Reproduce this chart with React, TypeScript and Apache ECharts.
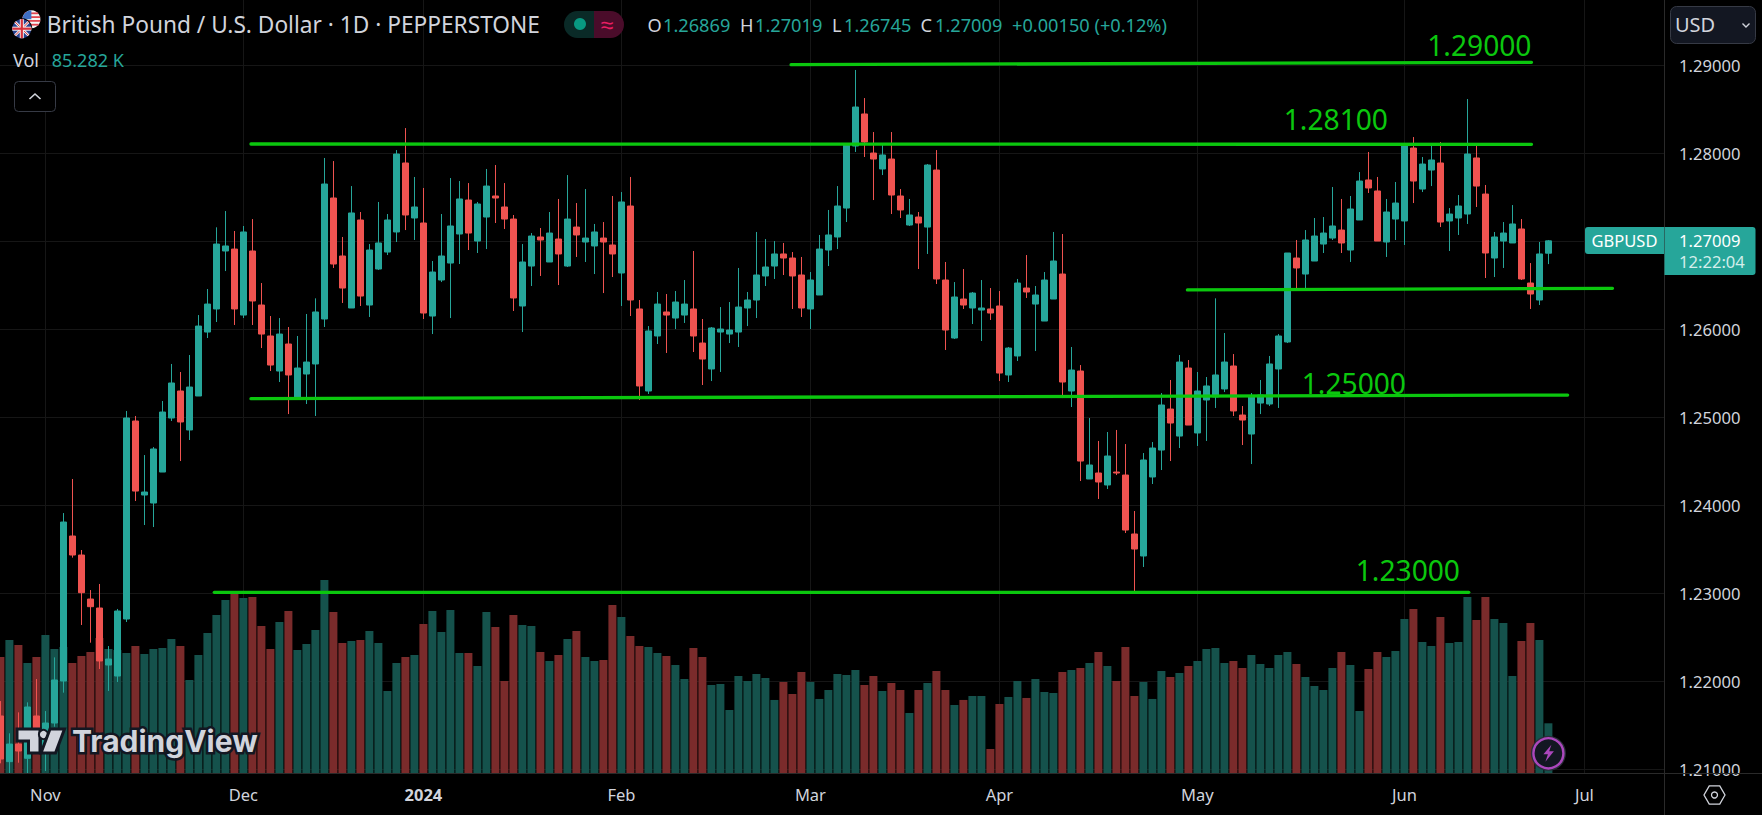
import React, { useEffect, useRef } from "react";
import * as echarts from "echarts";

const opens = [
1.21610,1.21091,1.21291,1.21129,1.21610,1.21223,1.21530,1.22007,1.23655,1.23439,
1.22939,1.22837,1.22189,1.22064,1.22712,1.24962,1.24121,1.24030,1.24382,1.24996,
1.25303,1.24860,1.25246,1.25973,1.26235,1.26894,1.26916,1.26166,1.26894,1.26280,
1.25928,1.25530,1.25837,1.25223,1.25496,1.25610,1.26121,1.27496,1.26837,1.26246,
1.27246,1.26280,1.26689,1.26882,1.27110,1.27894,1.27269,1.27212,1.26155,1.26564,
1.26757,1.27087,1.27473,1.27007,1.27280,1.27519,1.27394,1.27257,1.26269,1.26723,
1.27053,1.26769,1.27030,1.26723,1.27166,1.26996,1.26951,1.27041,1.26962,1.26644,
1.27405,1.26235,1.25303,1.25928,1.26201,1.26132,1.26166,1.26235,1.25848,1.25553,
1.25973,1.25950,1.25973,1.26246,1.26337,1.26610,1.26723,1.26860,1.26814,1.26621,
1.26235,1.26394,1.26905,1.27053,1.27382,1.28087,1.28451,1.28007,1.27826,1.27939,
1.27519,1.27189,1.27280,1.27166,1.27814,1.26564,1.25905,1.26348,1.26246,1.26223,
1.26235,1.26269,1.25485,1.25701,1.26473,1.26291,1.26098,1.26348,1.26632,1.25303,
1.25530,1.24303,1.24371,1.24235,1.24382,1.24348,1.23678,1.23428,1.24326,1.24632,
1.25098,1.24791,1.25564,1.24826,1.25201,1.25235,1.25326,1.25587,1.25030,1.24814,
1.25166,1.25155,1.25553,1.25860,1.26814,1.26632,1.26780,1.26973,1.27041,1.27132,
1.26905,1.27246,1.27701,1.27576,1.26996,1.27257,1.27235,1.28064,1.27598,1.27814,
1.27894,1.27235,1.27269,1.27314,1.27951,1.27541,1.26814,1.27007,1.26985,1.27144,
1.26530,1.26337,1.26869];

const highs = [
1.21780,1.21413,1.21651,1.21765,1.22030,1.21666,1.22276,1.23916,1.24303,1.23496,
1.23041,1.23110,1.22405,1.22826,1.25076,1.25019,1.24575,1.24666,1.25189,1.25610,
1.25519,1.25712,1.26166,1.26462,1.27163,1.27348,1.27121,1.27178,1.27257,1.26530,
1.26155,1.26132,1.26030,1.25928,1.26178,1.26356,1.27951,1.27916,1.27053,1.27632,
1.27337,1.26973,1.27451,1.27314,1.28041,1.28291,1.27735,1.27610,1.26780,1.27314,
1.27723,1.27689,1.27666,1.27451,1.27826,1.27871,1.27666,1.27303,1.26973,1.27098,
1.27155,1.27337,1.27485,1.27757,1.27439,1.27598,1.27201,1.27223,1.27519,1.27564,
1.27735,1.26337,1.26041,1.26428,1.26405,1.26439,1.26564,1.26894,1.26121,1.26030,
1.26257,1.26314,1.26701,1.26428,1.27110,1.27030,1.27007,1.26985,1.26882,1.26826,
1.26655,1.27076,1.27360,1.27632,1.28117,1.28951,1.28632,1.28246,1.28110,1.28246,
1.27598,1.27485,1.27337,1.27882,1.28041,1.26769,1.26541,1.26689,1.26428,1.26564,
1.26473,1.26439,1.25803,1.26576,1.26848,1.26496,1.26655,1.27110,1.27087,1.25803,
1.25598,1.24996,1.24735,1.24837,1.24860,1.24700,1.23939,1.24598,1.24723,1.25280,
1.25428,1.25712,1.25655,1.25519,1.25462,1.26356,1.25962,1.25723,1.25132,1.25280,
1.25428,1.25701,1.25950,1.26871,1.27019,1.27132,1.27269,1.27280,1.27621,1.27485,
1.27519,1.27791,1.28019,1.27735,1.27485,1.27678,1.28110,1.28189,1.27962,1.28098,
1.28132,1.27382,1.27530,1.28621,1.28087,1.27644,1.27110,1.27223,1.27416,1.27257,
1.26757,1.26996,1.27019];

const lows = [
1.21072,1.20958,1.21079,1.20958,1.21204,1.20985,1.21488,1.21875,1.23409,1.22644,
1.22443,1.22144,1.21894,1.21996,1.22678,1.24053,1.23780,1.23757,1.24382,1.24962,
1.24507,1.24746,1.25246,1.25905,1.26087,1.26666,1.26053,1.26132,1.26053,1.25791,
1.25530,1.25405,1.25041,1.25223,1.25155,1.25019,1.26030,1.26701,1.26303,1.26246,
1.26269,1.26144,1.26678,1.26848,1.26996,1.27132,1.27019,1.26121,1.25950,1.26541,
1.26132,1.26746,1.26905,1.26871,1.26916,1.27212,1.27144,1.26212,1.25973,1.26496,
1.26610,1.26769,1.26507,1.26712,1.26826,1.26769,1.26632,1.26416,1.26598,1.26269,
1.26155,1.25201,1.25269,1.25837,1.25735,1.26007,1.26076,1.25746,1.25371,1.25416,
1.25519,1.25848,1.25803,1.26041,1.26132,1.26496,1.26576,1.26621,1.26235,1.26144,
1.26007,1.26394,1.26723,1.26916,1.27223,1.28019,1.27962,1.27473,1.27757,1.27314,
1.27269,1.27178,1.26689,1.26860,1.26519,1.25769,1.25894,1.26235,1.26064,1.25871,
1.26110,1.25416,1.25405,1.25644,1.26360,1.25757,1.26098,1.26348,1.25223,1.25121,
1.24280,1.24303,1.24076,1.24189,1.24348,1.23689,1.23022,1.23303,1.24246,1.24405,
1.24507,1.24655,1.24916,1.24678,1.24735,1.25110,1.25291,1.25019,1.24689,1.24473,
1.25041,1.25132,1.25110,1.25848,1.26451,1.26473,1.26780,1.26871,1.27019,1.26871,
1.26769,1.27246,1.27553,1.27007,1.26826,1.27019,1.26962,1.27439,1.27564,1.27632,
1.27166,1.26894,1.27076,1.27201,1.27394,1.26587,1.26598,1.26701,1.26985,1.26564,
1.26235,1.26280,1.26745];

const closes = [
1.21121,1.21291,1.21212,1.21712,1.21375,1.21530,1.22019,1.23814,1.23439,1.23011,
1.22852,1.22235,1.22257,1.22803,1.24996,1.24166,1.24155,1.24644,1.25064,1.25394,
1.24951,1.25348,1.26041,1.26291,1.26973,1.26951,1.26235,1.27110,1.26326,1.25950,
1.25598,1.25950,1.25485,1.25564,1.25632,1.26201,1.27655,1.26746,1.26473,1.27326,
1.26382,1.26905,1.26985,1.27246,1.27996,1.27303,1.27394,1.26189,1.26655,1.26837,
1.27178,1.27485,1.27098,1.27428,1.27632,1.27496,1.27257,1.26360,1.26769,1.27064,
1.27019,1.27098,1.26860,1.27257,1.27076,1.27041,1.27110,1.26996,1.26860,1.27451,
1.26337,1.25360,1.25985,1.26291,1.26166,1.26314,1.26291,1.25928,1.25666,1.26019,
1.26007,1.25996,1.26257,1.26337,1.26621,1.26712,1.26860,1.26814,1.26610,1.26246,
1.26564,1.26916,1.27076,1.27405,1.28098,1.28530,1.28132,1.27939,1.27985,1.27530,
1.27360,1.27303,1.27212,1.27871,1.26576,1.25996,1.26371,1.26280,1.26416,1.26246,
1.26189,1.25507,1.25791,1.26530,1.26428,1.26394,1.26564,1.26780,1.25405,1.25541,
1.24507,1.24462,1.24269,1.24564,1.24371,1.23723,1.23507,1.24519,1.24655,1.25144,
1.24939,1.25632,1.24916,1.25303,1.25360,1.25485,1.25632,1.25076,1.24973,1.25246,
1.25257,1.25610,1.25928,1.26871,1.26701,1.27019,1.27064,1.27098,1.27178,1.26985,
1.27371,1.27689,1.27610,1.27007,1.27337,1.27439,1.28098,1.27689,1.27882,1.27928,
1.27223,1.27314,1.27405,1.27996,1.27632,1.26871,1.27053,1.27098,1.27201,1.26576,
1.26405,1.26860,1.27009];

// volume, in thousands
const volumes = [
198.4,227.4,218.9,188.2,198.4,235.9,212.1,215.5,188.2,200.1,
206.9,230.8,212.1,210.3,205.2,217.2,203.5,212.1,213.8,229.1,
217.2,159.2,201.8,239.3,270.0,295.6,307.0,299.0,300.7,251.3,
212.1,258.1,276.9,210.3,220.6,244.5,329.7,275.2,222.3,225.7,
227.4,242.7,222.3,140.4,188.2,198.4,201.8,254.7,276.9,241.0,
278.6,205.2,205.2,183.1,275.2,249.6,157.5,270.0,253.0,251.3,
206.9,191.6,201.8,229.1,242.7,198.4,191.6,193.3,287.1,266.6,
234.2,217.2,215.5,205.2,200.1,184.8,160.9,213.8,198.4,150.7,
152.4,108.0,166.0,157.5,169.4,162.6,125.1,155.8,135.3,172.8,
155.8,126.8,142.1,169.4,167.7,176.2,150.7,166.0,140.4,154.1,
142.1,102.9,142.1,154.1,174.5,142.1,116.5,125.1,131.9,131.9,
41.5,118.2,130.2,157.5,128.5,160.9,138.7,137.0,172.8,176.2,
179.6,188.2,206.9,183.1,157.5,215.5,131.9,155.8,126.8,174.5,
164.3,171.1,183.1,191.6,212.1,213.8,188.2,191.6,179.6,201.8,
186.5,179.6,201.8,206.9,186.5,164.3,148.9,142.1,179.6,206.9,
184.8,106.3,177.9,206.9,198.4,208.6,263.2,280.3,224.0,217.2,
266.6,222.3,224.0,300.7,261.5,300.7,263.2,256.4,166.0,225.7,
256.4,227.4,85.282];

const priceTicks = [1.21, 1.22, 1.23, 1.24, 1.25, 1.26, 1.27, 1.28, 1.29];
const monthNames = ["Nov", "Dec", "2024", "Feb", "Mar", "Apr", "May", "Jun", "Jul"];
const monthBars = [5, 27, 47, 69, 90, 111, 133, 156, 176];

const levelNames = ["1.29000", "1.28100", "1.25000", "1.23000"];
const drawnLines: number[][][] = [
  [[87.85, 1.29011], [170.12, 1.29038]],
  [[27.84, 1.2811], [170.12, 1.28106]],
  [[27.84, 1.25216], [174.14, 1.25257]],
  [[131.89, 1.26451], [179.12, 1.2647]],
  [[23.77, 1.23015], [163.15, 1.23015]],
];

const FONT = '"Noto Sans", sans-serif';
const GRID = "#161616";
const TXT = "#d1d4dc";
const UP = "#26a69a";
const DOWN = "#ef5350";
const GREEN = "#0bc70e";

const T = (text: string, x: number, y: number, size: number, fill: string, extra: any = {}) => ({
  type: "text",
  x,
  y,
  z: 100,
  silent: true,
  style: { text, fill, fontSize: size, fontFamily: FONT, align: "left", verticalAlign: "middle", ...extra },
});

const L = (x1: number, y1: number, x2: number, y2: number, stroke: string, w = 1) => ({
  type: "line",
  z: 100,
  silent: true,
  shape: { x1, y1, x2, y2 },
  style: { stroke, lineWidth: w },
});

function chord(cx: number, cy: number, r: number, dy: number, stroke: string, w: number) {
  const h = Math.sqrt(r * r - dy * dy);
  return L(cx - h, cy + dy, cx + h, cy + dy, stroke, w);
}

function flags() {
  const ux = 31.4, uy = 19.3, ur = 9;
  const gx = 21.8, gy = 28.7, gr = 9.5;
  const d = gr * 0.707;
  return [
    { type: "circle", z: 100, shape: { cx: ux, cy: uy, r: ur }, style: { fill: "#f4f4f4" } },
    chord(ux, uy, ur, -6, "#e0454f", 1.8),
    chord(ux, uy, ur, -2.2, "#e0454f", 1.8),
    chord(ux, uy, ur, 1.6, "#e0454f", 1.8),
    chord(ux, uy, ur, 5.4, "#e0454f", 1.8),
    { type: "sector", z: 100, shape: { cx: ux, cy: uy, r0: 0, r: ur, startAngle: Math.PI, endAngle: Math.PI * 1.5 }, style: { fill: "#3f6fc4" } },
    { type: "circle", z: 100, shape: { cx: gx, cy: gy, r: gr + 1 }, style: { fill: "#000" } },
    { type: "circle", z: 100, shape: { cx: gx, cy: gy, r: gr }, style: { fill: "#26408f" } },
    L(gx - d, gy - d, gx + d, gy + d, "#f4f4f4", 2.6),
    L(gx - d, gy + d, gx + d, gy - d, "#f4f4f4", 2.6),
    L(gx - d, gy - d, gx + d, gy + d, "#d8323c", 1),
    L(gx - d, gy + d, gx + d, gy - d, "#d8323c", 1),
    L(gx - gr, gy, gx + gr, gy, "#f4f4f4", 4),
    L(gx, gy - gr, gx, gy + gr, "#f4f4f4", 4),
    L(gx - gr, gy, gx + gr, gy, "#d8323c", 2.2),
    L(gx, gy - gr, gx, gy + gr, "#d8323c", 2.2),
  ];
}

function overlays() {
  const hexR = 10.5, hx = 1714.5, hy = 795;
  const hex = [0, 1, 2, 3, 4, 5].map((k) => [hx + hexR * Math.cos((k * Math.PI) / 3), hy + hexR * Math.sin((k * Math.PI) / 3)]);
  const bx = 1548.4, by = 753.3;
  return [
    // panel separators
    L(1664.5, 0, 1664.5, 815, "#2a2a2a"),
    L(0, 773.5, 1762, 773.5, "#2a2a2a"),
    // legend
    ...flags(),
    T("British Pound / U.S. Dollar · 1D · PEPPERSTONE", 46.7, 24.7, 22.7, TXT),
    { type: "rect", z: 100, shape: { x: 564, y: 11, width: 30, height: 27, r: [13.5, 0, 0, 13.5] }, style: { fill: "#0a2a27" } },
    { type: "rect", z: 100, shape: { x: 594, y: 11, width: 30, height: 27, r: [0, 13.5, 13.5, 0] }, style: { fill: "#4a0c2a" } },
    { type: "circle", z: 100, shape: { cx: 580, cy: 24, r: 6 }, style: { fill: "#089981" } },
    T("≈", 607, 24, 23, "#e91e63", { align: "center" }),
    T("O", 647.5, 24.7, 18.2, TXT),
    T("1.26869", 663, 24.7, 18.2, UP),
    T("H", 740, 24.7, 18.2, TXT),
    T("1.27019", 755, 24.7, 18.2, UP),
    T("L", 832, 24.7, 18.2, TXT),
    T("1.26745", 844, 24.7, 18.2, UP),
    T("C", 920.5, 24.7, 18.2, TXT),
    T("1.27009", 935, 24.7, 18.2, UP),
    T("+0.00150 (+0.12%)", 1012, 24.7, 18.2, UP),
    T("Vol", 13, 60, 18, TXT),
    T("85.282 K", 51.7, 60, 18, UP),
    { type: "rect", z: 100, shape: { x: 14.5, y: 81.5, width: 41, height: 30, r: 4 }, style: { fill: "#000", stroke: "#363a45", lineWidth: 1 } },
    { type: "polyline", z: 100, shape: { points: [[29.5, 99], [35, 94], [40.5, 99]] }, style: { stroke: TXT, lineWidth: 1.6, fill: "none" } },
    // currency button
    { type: "rect", z: 100, shape: { x: 1670.5, y: 6.5, width: 85, height: 37, r: 6 }, style: { fill: "#131722", stroke: "#363a45", lineWidth: 1 } },
    T("USD", 1675, 24.5, 20, TXT),
    { type: "polyline", z: 100, shape: { points: [[1742.5, 23.5], [1746, 27], [1749.5, 23.5]] }, style: { stroke: TXT, lineWidth: 1.4, fill: "none" } },
    // last price
    { type: "rect", z: 100, shape: { x: 1585, y: 227, width: 79, height: 27, r: [3, 0, 0, 3] }, style: { fill: UP } },
    T("GBPUSD", 1624.5, 240.7, 16.5, "#ffffff", { align: "center" }),
    { type: "rect", z: 100, shape: { x: 1664.5, y: 227, width: 91, height: 48, r: [0, 3, 3, 0] }, style: { fill: UP } },
    T("1.27009", 1679, 240.7, 16.6, "#ffffff"),
    T("12:22:04", 1679, 261.7, 16.6, "#d4eeeb"),
    // level captions
    T(levelNames[0], 1531.5, 44.5, 28.2, GREEN, { align: "right" }),
    T(levelNames[1], 1388, 118.5, 28.2, GREEN, { align: "right" }),
    T(levelNames[2], 1406, 382.5, 28.2, GREEN, { align: "right" }),
    T(levelNames[3], 1460, 570.2, 28.2, GREEN, { align: "right" }),
    // watermark
    { type: "polygon", z: 100, shape: { points: [[17, 729], [40, 729], [40, 753], [28.5, 753], [28.5, 741], [17, 741]] }, style: { fill: TXT, stroke: "#131722", lineWidth: 3 } },
    { type: "circle", z: 100, shape: { cx: 43.5, cy: 734.5, r: 4.6 }, style: { fill: TXT, stroke: "#131722", lineWidth: 2 } },
    { type: "polygon", z: 100, shape: { points: [[50, 729], [64.5, 729], [55.5, 753], [41, 753]] }, style: { fill: TXT, stroke: "#131722", lineWidth: 3 } },
    T("TradingView", 72, 740.5, 30, TXT, { fontWeight: "bold", fontFamily: "Inter, sans-serif", stroke: "#131722", lineWidth: 5 }),
    // alert badge
    { type: "circle", z: 100, shape: { cx: bx, cy: by, r: 17.5 }, style: { fill: "#2a2e39" } },
    { type: "circle", z: 100, shape: { cx: bx, cy: by, r: 15 }, style: { fill: "#131722", stroke: "#ab47bc", lineWidth: 2.4 } },
    { type: "polygon", z: 100, shape: { points: [[bx + 3, by - 8.5], [bx - 5, by + 1], [bx - 0.5, by + 1], [bx - 3, by + 8.5], [bx + 5.5, by - 2], [bx + 0.8, by - 2]] }, style: { fill: "#ab47bc" } },
    // settings icon
    { type: "polygon", z: 100, shape: { points: hex }, style: { stroke: TXT, lineWidth: 1.3, fill: "none" } },
    { type: "circle", z: 100, shape: { cx: hx, cy: hy, r: 3 }, style: { stroke: TXT, lineWidth: 1.3, fill: "none" } },
  ];
}

export default function App() {
  const ref = useRef<HTMLDivElement>(null);
  useEffect(() => {
    const chart = echarts.init(ref.current!, undefined, { renderer: "svg" });
    const isUp = (i: number) => closes[i] >= opens[i];
    chart.setOption({
      animation: false,
      backgroundColor: "#000000",
      grid: { left: 0, top: 0, width: 1664.5, height: 773.3 },
      xAxis: {
        type: "value",
        min: -0.0444,
        max: 184.9,
        axisLine: { show: false },
        axisTick: { show: false, customValues: monthBars },
        splitLine: { show: true, lineStyle: { color: GRID, width: 1 } },
        axisLabel: {
          customValues: monthBars,
          margin: 13,
          color: TXT,
          fontSize: 16.5,
          fontFamily: FONT,
          hideOverlap: false,
          formatter: (v: number) => {
            const name = monthNames[monthBars.indexOf(v)] ?? "";
            return name === "2024" ? "{b|2024}" : name;
          },
          rich: { b: { fontSize: 16.5, fontWeight: "bold", color: TXT, fontFamily: FONT } },
        },
      },
      yAxis: [
        {
          type: "value",
          position: "right",
          min: 1.209586,
          max: 1.297462,
          axisLine: { show: false },
          axisTick: { show: false, customValues: priceTicks },
          splitLine: { show: true, lineStyle: { color: GRID, width: 1 } },
          axisLabel: {
            customValues: priceTicks,
            margin: 14.5,
            color: TXT,
            fontSize: 16.6,
            fontFamily: FONT,
            formatter: (v: number) => v.toFixed(5),
          },
        },
        { type: "value", show: false, min: 0, max: 1319, splitLine: { show: false } },
      ],
      series: [
        {
          type: "bar",
          yAxisIndex: 1,
          barWidth: 8,
          z: 1,
          data: volumes.map((v, i) => ({
            value: [i, v],
            itemStyle: { color: isUp(i) ? "#15524c" : "#7a2b2b" },
          })),
        },
        {
          type: "candlestick",
          barWidth: 6,
          z: 2,
          clip: true,
          itemStyle: { color: UP, color0: DOWN, borderColor: UP, borderColor0: DOWN, borderWidth: 1 },
          data: opens.map((o, i) => [i, o, closes[i], lows[i], highs[i]]),
        },
        ...drawnLines.map((pts) => ({
          type: "line",
          z: 3,
          showSymbol: false,
          symbol: "none",
          silent: true,
          lineStyle: { color: GREEN, width: 3.3, cap: "round" },
          data: pts,
        })),
      ],
      graphic: { elements: overlays() },
    });
    return () => chart.dispose();
  }, []);
  return <div ref={ref} style={{ position: "fixed", left: 0, top: 0, width: 1762, height: 815 }} />;
}
